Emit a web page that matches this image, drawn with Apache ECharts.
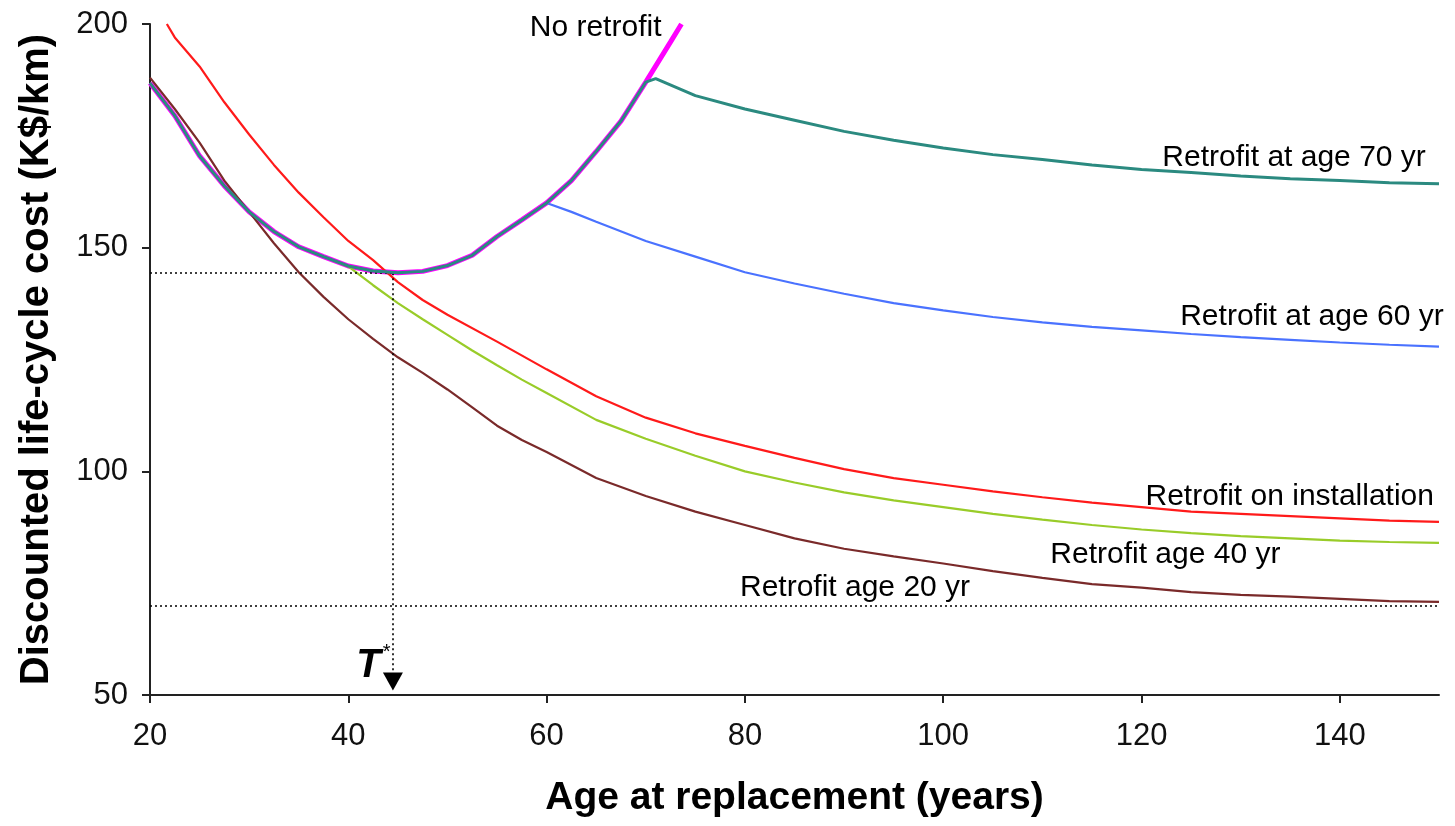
<!DOCTYPE html>
<html>
<head>
<meta charset="utf-8">
<script src="https://cdn.jsdelivr.net/npm/echarts@6/dist/echarts.min.js"></script>
<style>
  html, body { margin: 0; padding: 0; background: #fff; }
  #main { width: 1455px; height: 826px; }
</style>
</head>
<body>
<div id="main"></div>
<script>
// no retrofit curve (the other retrofit curves follow it until they branch off)
const noRetroAges = [20, 22.5, 25, 27.5, 30, 32.5, 35, 37.5, 40, 42.5, 45, 47.5, 50, 52.5, 55, 57.5, 60, 62.5, 65, 67.5, 70, 72.5, 73.6];
const noRetroCost = [186.8, 179.5, 170.5, 163.8, 158, 153.6, 150.2, 148, 145.9, 144.8, 144.4, 144.7, 146, 148.3, 152.5, 156.2, 160, 165, 171.5, 178.3, 187, 196, 200];

// retrofit at age 70: tail after branching
const r70Ages = [70, 71, 75, 80, 85, 90, 95, 100, 105, 110, 115, 120, 125, 130, 135, 140, 145, 150];
const r70Cost = [187, 187.8, 184, 181, 178.5, 176, 174, 172.3, 170.8, 169.7, 168.5, 167.5, 166.8, 166, 165.4, 165, 164.5, 164.3];

// retrofit at age 60
const r60Ages = [60, 62.5, 65, 70, 75, 80, 85, 90, 95, 100, 105, 110, 115, 120, 125, 130, 135, 140, 145, 150];
const r60Cost = [160, 158, 155.8, 151.5, 148, 144.5, 142, 139.7, 137.6, 136, 134.5, 133.3, 132.3, 131.5, 130.7, 130, 129.4, 128.8, 128.3, 127.9];

// retrofit age 40
const r40Ages = [40, 42.5, 45, 47.5, 50, 52.5, 55, 57.5, 60, 65, 70, 75, 80, 85, 90, 95, 100, 105, 110, 115, 120, 125, 130, 135, 140, 145, 150];
const r40Cost = [145.8, 141.6, 137.6, 134, 130.5, 127, 123.7, 120.5, 117.5, 111.5, 107.3, 103.5, 100, 97.5, 95.3, 93.5, 92, 90.5, 89.2, 88, 87, 86.2, 85.5, 85, 84.5, 84.2, 84];

// retrofit age 20
const r20Ages = [20, 22.5, 25, 27.5, 30, 32.5, 35, 37.5, 40, 42.5, 45, 47.5, 50, 52.5, 55, 57.5, 60, 65, 70, 75, 80, 85, 90, 95, 100, 105, 110, 115, 120, 125, 130, 135, 140, 145, 150];
const r20Cost = [188, 181, 173.5, 165, 158, 151, 144.5, 139, 134, 129.6, 125.5, 122, 118.3, 114.3, 110.2, 107, 104.3, 98.5, 94.5, 91, 88, 85, 82.7, 81, 79.4, 77.7, 76.2, 74.8, 74, 73, 72.4, 72, 71.5, 71, 70.8];

// retrofit on installation
const rInstAges = [21.7, 22.5, 25, 27.5, 30, 32.5, 35, 37.5, 40, 42.5, 45, 47.5, 50, 55, 60, 65, 70, 75, 80, 85, 90, 95, 100, 105, 110, 115, 120, 125, 130, 135, 140, 145, 150];
const rInstCost = [200, 197, 190.5, 182.5, 175.3, 168.5, 162.3, 156.8, 151.5, 147.2, 142.3, 138.3, 135, 129, 122.8, 116.8, 112, 108.5, 105.7, 103, 100.5, 98.5, 97, 95.5, 94.2, 93, 92, 91, 90.5, 90, 89.5, 89, 88.7];

const xTicks = [20, 40, 60, 80, 100, 120, 140];
const tStar = 44.5;      // optimum replacement age
const minCost = 144.3;   // minimum cost of no retrofit
const lowCost = 70;      // lower reference line

const curveLabels = ['No retrofit', 'Retrofit at age 70 yr', 'Retrofit at age 60 yr', 'Retrofit on installation', 'Retrofit age 40 yr', 'Retrofit age 20 yr'];
const labelAges = [58.3, 122.1, 123.9, 120.4, 110.8, 79.5];
const labelCosts = [199.1, 170.1, 134.5, 94.3, 81.3, 74.0];

const FONT = '"Liberation Sans", Arial, sans-serif';

function pairs(ages, costs) {
  return ages.map((a, i) => [a, costs[i]]);
}
// curve that follows no retrofit until branching age, then its own tail
function branch(ages, costs) {
  const head = pairs(noRetroAges, noRetroCost).filter(p => p[0] < ages[0]);
  return head.concat(pairs(ages, costs));
}

function lineSeries(name, data, color, width, z) {
  return {
    name: name,
    type: 'line',
    data: data,
    showSymbol: false,
    symbol: 'none',
    z: z,
    lineStyle: { color: color, width: width },
    animation: false
  };
}

const dotted = { color: '#000', width: 1.6, type: [2, 3] };

const option = {
  animation: false,
  backgroundColor: '#fff',
  textStyle: { fontFamily: FONT },
  grid: { left: 150, right: 16, top: 24, bottom: 131, containLabel: false },
  xAxis: {
    type: 'value',
    min: 20,
    max: 150,
    interval: 20,
    name: 'Age at replacement (years)',
    nameLocation: 'middle',
    nameGap: 84,
    nameTextStyle: { fontFamily: FONT, fontSize: 39, fontWeight: 'bold', color: '#000' },
    axisLine: { show: true, onZero: false, lineStyle: { color: '#222', width: 2 } },
    axisTick: { show: true, length: 8, lineStyle: { color: '#222', width: 2 }, customValues: xTicks },
    axisLabel: { fontFamily: FONT, fontSize: 31, color: '#111', margin: 26, customValues: xTicks },
    splitLine: { show: false }
  },
  yAxis: {
    type: 'value',
    min: 50,
    max: 200,
    interval: 50,
    name: 'Discounted life-cycle cost (K$/km)',
    nameLocation: 'middle',
    nameGap: 93,
    nameTextStyle: { fontFamily: FONT, fontSize: 40, fontWeight: 'bold', color: '#000' },
    axisLine: { show: true, lineStyle: { color: '#222', width: 2 } },
    axisTick: { show: true, length: 8, lineStyle: { color: '#222', width: 2 } },
    axisLabel: { fontFamily: FONT, fontSize: 31, color: '#111', margin: 22 },
    splitLine: { show: false }
  },
  series: [
    Object.assign(lineSeries('No retrofit', pairs(noRetroAges, noRetroCost), '#FF00FF', 5, 2), {
      markLine: {
        silent: true,
        symbol: ['none', 'none'],
        animation: false,
        label: { show: false },
        lineStyle: dotted,
        data: [
          [{ coord: [20, minCost] }, { coord: [tStar, minCost] }],
          [{ coord: [20, lowCost] }, { coord: [150, lowCost] }],
          [{ coord: [tStar, minCost], symbol: 'none' }, { coord: [tStar, 53], symbol: 'triangle', symbolSize: [20, 18] }]
        ]
      }
    }),
    lineSeries('Retrofit on installation', pairs(rInstAges, rInstCost), '#FF1A1A', 2.2, 3),
    lineSeries('Retrofit age 20 yr', pairs(r20Ages, r20Cost), '#7A2A2A', 2.2, 3),
    lineSeries('Retrofit age 40 yr', branch(r40Ages, r40Cost), '#99CC29', 2.2, 3),
    lineSeries('Retrofit at age 60 yr', branch(r60Ages, r60Cost), '#4A72FF', 2.2, 4),
    lineSeries('Retrofit at age 70 yr', branch(r70Ages, r70Cost), '#2B8A80', 3, 5),
    {
      name: 'labels',
      type: 'scatter',
      symbolSize: 0,
      z: 6,
      silent: true,
      itemStyle: { opacity: 1 },
      data: curveLabels.map((t, i) => ({ value: [labelAges[i], labelCosts[i]], name: t })),
      label: {
        show: true,
        position: 'right',
        distance: 0,
        opacity: 1,
        formatter: p => p.name,
        fontFamily: FONT,
        fontSize: 30,
        color: '#000'
      }
    },
    {
      name: 'tstar',
      type: 'scatter',
      symbolSize: 0,
      z: 6,
      silent: true,
      itemStyle: { opacity: 1 },
      data: [{ value: [40.8, 56.5], name: 'T*' }],
      label: {
        show: true,
        position: 'right',
        distance: 0,
        opacity: 1,
        formatter: '{t|T}{s|*}',
        rich: {
          t: { fontFamily: FONT, fontSize: 40, fontWeight: 'bold', fontStyle: 'italic', color: '#000' },
          s: { fontFamily: FONT, fontSize: 20, color: '#000', verticalAlign: 'top', padding: [0, 0, 26, 2] }
        }
      }
    }
  ]
};

const myChart = echarts.init(document.getElementById('main'));
myChart.setOption(option);
</script>
</body>
</html>
